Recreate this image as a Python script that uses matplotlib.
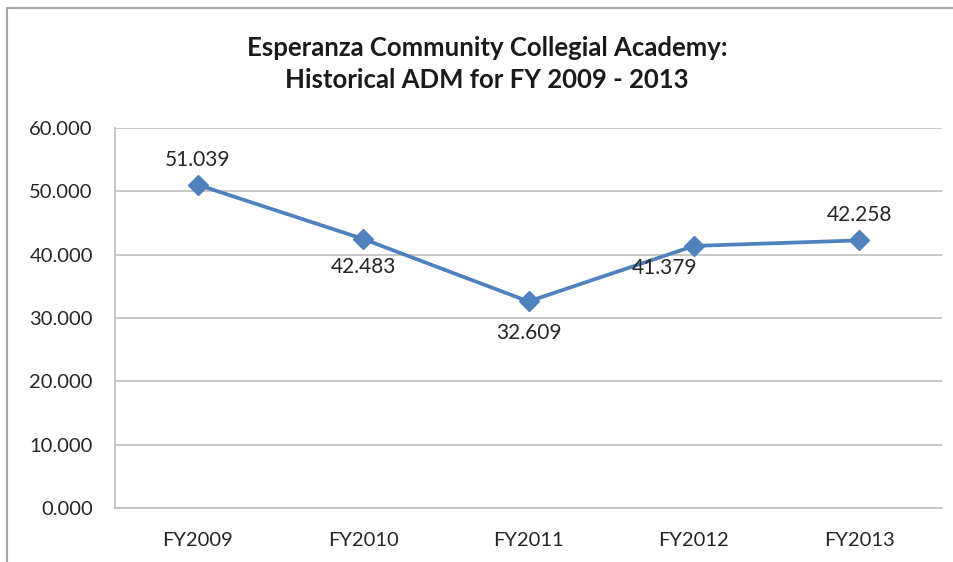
import matplotlib
matplotlib.use("Agg")
import matplotlib.pyplot as plt
from matplotlib.lines import Line2D

categories = ["FY2009", "FY2010", "FY2011", "FY2012", "FY2013"]
adm = [51.039, 42.483, 32.609, 41.379, 42.258]
yticks = [0, 10, 20, 30, 40, 50, 60]
title = "Esperanza Community Collegial Academy:\nHistorical ADM for FY 2009 - 2013"

# label offsets in points (dx, dy)
label_offsets = [(0, 18), (0, -20), (0, -23), (-21, -16), (0, 18)]

plt.rcParams['font.family'] = ['Lato', 'DejaVu Sans']

W, H = 954, 562
fig = plt.figure(figsize=(W / 100, H / 100), dpi=100)
fig.patch.set_facecolor("white")

ax = fig.add_axes([115 / W, (H - 508) / H, 827 / W, 380 / H])
x = list(range(len(categories)))
ax.plot(x, adm, color="#4F81BD", lw=2.7, marker="D", markersize=10,
        markerfacecolor="#4F81BD", markeredgecolor="#4F81BD", zorder=3)

for xi, v, (dx, dy) in zip(x, adm, label_offsets):
    ax.annotate(f"{v:.3f}", (xi, v), xytext=(dx, dy), textcoords="offset points",
                ha="center", va="center", fontsize=15, color="#262626")

ax.set_xlim(-0.5, len(categories) - 0.5)
ax.set_ylim(0, 60)
ax.set_yticks(yticks)
ax.set_yticklabels([f"{t:.3f}" for t in yticks])
ax.set_xticks(x)
ax.set_xticklabels(categories)
ax.tick_params(axis="both", length=0, labelsize=14.5, labelcolor="#262626")
ax.tick_params(axis="y", pad=16)
ax.tick_params(axis="x", pad=17)
ax.yaxis.grid(True, color="#BFBFBF", lw=1.2)
ax.set_axisbelow(True)
for s in ["top", "right"]:
    ax.spines[s].set_visible(False)
ax.spines["left"].set_color("#BFBFBF")
ax.spines["bottom"].set_color("#BFBFBF")
ax.spines["left"].set_linewidth(1.2)
ax.spines["bottom"].set_linewidth(1.2)

fig.text(487 / W, 1 - 64 / H, title, ha="center", va="center",
         fontsize=18.5, fontweight="bold", color="#1a1a1a", linespacing=1.45)

# outer chart frame (left and top edges visible)
fig.add_artist(Line2D([7 / W, 7 / W], [0, 1 - 8 / H], transform=fig.transFigure,
                      color="#A6A6A6", lw=1.5))
fig.add_artist(Line2D([7 / W, 1], [1 - 8 / H, 1 - 8 / H], transform=fig.transFigure,
                      color="#A6A6A6", lw=1.5))

fig.savefig("out.png", dpi=100)
